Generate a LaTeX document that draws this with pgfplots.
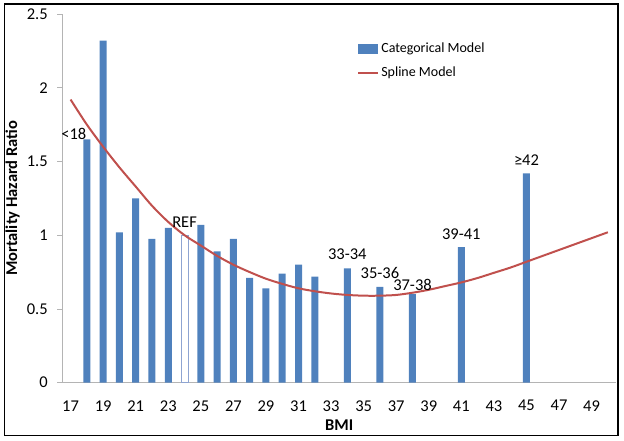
\documentclass[border=0pt]{standalone}
\usepackage{pgfplots}
\pgfplotsset{compat=1.18}
\usepackage{fontspec}
\setmainfont{Carlito}
\usetikzlibrary{calc}
\definecolor{xblue}{HTML}{4F81BD}
\definecolor{xred}{HTML}{C0504D}
\definecolor{xgray}{HTML}{B4B4B4}
\definecolor{xref}{HTML}{8EA4D2}
\begin{document}
\fontsize{16.5bp}{19bp}\selectfont
\begin{tikzpicture}
\begin{axis}[
  name=ax,
  scale only axis,
  width=554bp, height=369bp,
  xmin=16.5, xmax=50.5, ymin=0, ymax=2.5,
  axis lines*=left,
  axis line style={xgray, line width=0.9bp, -},
  xtick={17,19,...,49},
  ytick={0,0.5,...,2.5},
  yticklabels={0,0.5,1,1.5,2,2.5},
  /pgf/number format/assume math mode=true,
  tick style={xgray, line width=0.9bp},
  x tick style={draw=none},
  major tick length=5bp,
  tick align=outside,
  tick label style={font=\fontsize{16.5bp}{19bp}\selectfont},
  xticklabel style={yshift=-7bp},
  yticklabel style={xshift=-4bp},
  xlabel={\textbf{BMI}},
  ylabel={\textbf{Mortality Hazard Ratio}},
  label style={font=\fontsize{16.5bp}{19bp}\selectfont},
  xlabel style={yshift=3bp},
  ylabel style={yshift=-4bp},
  clip=false,
  legend style={at={(axis cs:34.6,2.32)}, anchor=north west, draw=none, fill=none,
    inner sep=0pt,
    font=\fontsize{14bp}{17bp}\selectfont, row sep=8bp,
    legend cell align=left},
]
\addplot[ybar, bar width=7bp, bar shift=0bp, fill=xblue, draw=none,
  legend image code/.code={\fill[xblue] (0bp,-5bp) rectangle (20bp,5bp);}]
  coordinates {(18,1.65) (19,2.32) (20,1.02) (21,1.25) (22,0.975) (23,1.05)
  (25,1.07) (26,0.89) (27,0.975) (28,0.71) (29,0.64) (30,0.74) (31,0.80)
  (32,0.72) (34,0.775) (36,0.65) (38,0.60) (41,0.92) (45,1.42)};
\addlegendentry{Categorical Model}
\addplot[ybar, bar width=7bp, bar shift=0bp, fill=white, draw=xref, line width=0.7bp, forget plot]
  coordinates {(24,1.0)};
\addplot[xred, line width=2bp, smooth, mark=none,
  legend image code/.code={\draw[xred, line width=2bp] (0bp,0bp) -- (20bp,0bp);}]
  coordinates {(17,1.92) (18,1.75) (19,1.60) (20,1.46) (21,1.33) (22,1.20)
  (23,1.09) (24,1.00) (25,0.93) (26,0.86) (27,0.80) (28,0.75) (29,0.705)
  (30,0.67) (31,0.64) (32,0.62) (33,0.605) (34,0.595) (35,0.59) (36,0.59)
  (37,0.595) (38,0.61) (39,0.63) (40,0.655) (41,0.68) (42,0.71) (43,0.745)
  (44,0.78) (45,0.82) (46,0.86) (47,0.90) (48,0.94) (49,0.98) (50,1.02)};
\addlegendentry{Spline Model}
\node at (axis cs:17.2,1.69) {<18};
\node at (axis cs:24,1.09) {REF};
\node at (axis cs:34,0.87) {33-34};
\node at (axis cs:36,0.745) {35-36};
\node at (axis cs:38,0.66) {37-38};
\node at (axis cs:41,1.01) {39-41};
\node at (axis cs:45,1.51) {≥42};
\end{axis}
\draw[black, line width=1.5bp] ($(ax.south west)+(-58bp,-53bp)$) rectangle ($(ax.north east)+(2bp,10bp)$);
\path ($(ax.south west)+(-62bp,-58bp)$) rectangle ($(ax.north east)+(8bp,14bp)$);
\end{tikzpicture}
\end{document}
